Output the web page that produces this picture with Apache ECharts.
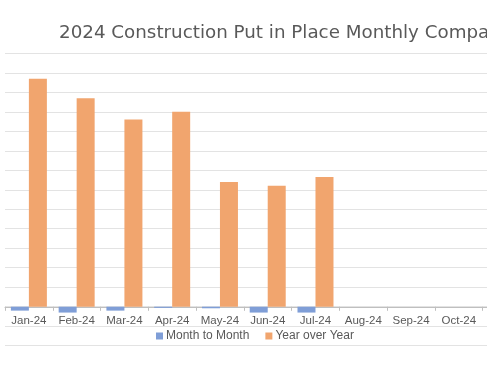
<!DOCTYPE html>
<html>
<head>
<meta charset="utf-8">
<script src="https://cdn.jsdelivr.net/npm/echarts@6/dist/echarts.min.js"></script>
<style>
html,body{margin:0;padding:0;background:#fff;}
#chart{width:487px;height:366px;}
</style>
</head>
<body>
<div id="chart"></div>
<script>
var categories = ['Jan-24','Feb-24','Mar-24','Apr-24','May-24','Jun-24','Jul-24','Aug-24','Sep-24','Oct-24','Nov-24','Dec-24'];
var monthToMonth = [-0.2, -0.3, -0.2, -0.06, -0.08, -0.3, -0.3, null, null, null, null, null];
var yearOverYear = [11.7, 10.7, 9.6, 10.0, 6.4, 6.2, 6.65, null, null, null, null, null];
var seriesNames = ['Month to Month', 'Year over Year'];
var yMin = -2, yMax = 13, yStep = 1;

var chart = echarts.init(document.getElementById('chart'), null, {renderer: 'canvas'});
chart.setOption({
  animation: false,
  backgroundColor: '#ffffff',
  title: {
    text: '2024 Construction Put in Place Monthly Comparison',
    left: 54,
    top: 19,
    textStyle: {fontFamily: 'DejaVu Sans', fontSize: 18.3, fontWeight: 'normal', color: '#595959'}
  },
  legend: {
    data: seriesNames,
    left: 151,
    top: 325,
    icon: 'rect',
    itemWidth: 7,
    itemHeight: 7,
    itemGap: 16,
    textStyle: {fontFamily: 'Liberation Sans', fontSize: 12, color: '#595959', padding: [0,0,0,-2]}
  },
  grid: {left: 5, top: 53.3, right: -91.2, bottom: 20.3, containLabel: false, outerBoundsMode: 'none'},
  xAxis: {
    type: 'category',
    data: categories,
    position: 'bottom',
    offset: -38.9,
    axisLine: {onZero: false, lineStyle: {color: '#BFBFBF', width: 1}},
    axisTick: {show: true, interval: 0, length: 4, lineStyle: {color: '#BFBFBF'}},
    axisLabel: {interval: 0, margin: 8, fontFamily: 'Liberation Sans', fontSize: 11.5, color: '#595959'},
    splitLine: {show: false}
  },
  yAxis: {
    type: 'value',
    min: yMin, max: yMax, interval: yStep,
    axisLine: {show: false},
    axisTick: {show: false},
    axisLabel: {show: false},
    splitLine: {lineStyle: {color: '#E3E3E3', width: 1}}
  },
  series: [
    {name: seriesNames[0], type: 'bar', data: monthToMonth, barWidth: 18, barGap: '0%', itemStyle: {color: '#7F9ED7'}},
    {name: seriesNames[1], type: 'bar', data: yearOverYear, barWidth: 18, barGap: '0%', itemStyle: {color: '#F1A56E'}}
  ]
});
</script>
</body>
</html>
